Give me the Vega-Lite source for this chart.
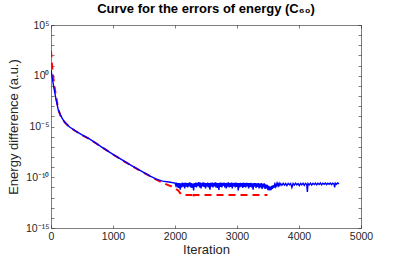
{
  "$schema": "https://vega.github.io/schema/vega-lite/v6.json",
  "width": 310,
  "height": 203,
  "autosize": {"type": "none"},
  "padding": {"left": 51, "top": 25, "right": 38, "bottom": 33},
  "background": "white",
  "title": {"text": "Curve for the errors of energy (C₆₀)", "font": "Liberation Sans, DejaVu Sans", "fontSize": 13, "fontWeight": "bold", "color": "#000000", "anchor": "middle", "offset": 4},
  "config": {
    "view": {"stroke": null},
    "axis": {"labelFont": "Liberation Sans", "titleFont": "Liberation Sans", "labelFontSize": 10.5, "titleFontSize": 13, "labelColor": "#262626", "titleColor": "#262626", "titleFontWeight": "normal", "domainColor": "#262626", "tickColor": "#262626", "domainWidth": 0.6, "tickWidth": 0.6, "grid": false}
  },
  "datasets": {
    "red": [
      {"iter": 0, "err": 300}, {"iter": 10, "err": 30}, {"iter": 25, "err": 3}, {"iter": 50, "err": 0.15}, {"iter": 80, "err": 0.01}, {"iter": 118, "err": 5e-4}, {"iter": 150, "err": 1.3e-4}, {"iter": 200, "err": 4e-5}, {"iter": 226, "err": 2.4e-5}, {"iter": 300, "err": 8.5e-6}, {"iter": 400, "err": 3.4e-6}, {"iter": 500, "err": 1.45e-6}, {"iter": 600, "err": 6.8e-7}, {"iter": 700, "err": 2.8e-7}, {"iter": 800, "err": 1.1e-7}, {"iter": 900, "err": 4.4e-8}, {"iter": 1000, "err": 1.75e-8}, {"iter": 1100, "err": 7.3e-9}, {"iter": 1200, "err": 3.1e-9}, {"iter": 1300, "err": 1.35e-9}, {"iter": 1400, "err": 6e-10}, {"iter": 1500, "err": 2.7e-10}, {"iter": 1600, "err": 1.25e-10}, {"iter": 1700, "err": 5.8e-11}, {"iter": 1800, "err": 2.9e-11}, {"iter": 1900, "err": 1.6e-11}, {"iter": 1975, "err": 1.05e-11}, {"iter": 2050, "err": 5e-12}, {"iter": 2090, "err": 2.5e-12}, {"iter": 2110, "err": 1.8e-12}, {"iter": 2285, "err": 1.8e-12}, {"iter": 2295, "err": 9e-13}, {"iter": 2305, "err": 1.8e-12}, {"iter": 3490, "err": 1.8e-12}
    ],
    "blue": [
      {"iter": 0, "err": 3.7}, {"iter": 10, "err": 1.6}, {"iter": 25, "err": 0.4}, {"iter": 50, "err": 0.05}, {"iter": 80, "err": 5e-3}, {"iter": 118, "err": 4.3e-4}, {"iter": 150, "err": 1.4e-4}, {"iter": 200, "err": 4e-5}, {"iter": 226, "err": 2.5e-5}, {"iter": 300, "err": 9e-6}, {"iter": 400, "err": 3.5e-6}, {"iter": 500, "err": 1.5e-6}, {"iter": 600, "err": 7e-7}, {"iter": 700, "err": 2.9e-7}, {"iter": 800, "err": 1.1e-7}, {"iter": 900, "err": 4.5e-8}, {"iter": 1000, "err": 1.8e-8}, {"iter": 1100, "err": 7.5e-9}, {"iter": 1200, "err": 3.2e-9}, {"iter": 1300, "err": 1.4e-9}, {"iter": 1400, "err": 6.3e-10}, {"iter": 1500, "err": 2.9e-10}, {"iter": 1600, "err": 1.3e-10}, {"iter": 1700, "err": 6.5e-11}, {"iter": 1800, "err": 4.2e-11}, {"iter": 1900, "err": 3.4e-11}, {"iter": 1950, "err": 3.0e-11},
      {"iter": 2000, "err": 2.7e-11}, {"iter": 2012, "err": 1.6e-11}, {"iter": 2024, "err": 3.0e-11}, {"iter": 2036, "err": 1.0e-11}, {"iter": 2048, "err": 2.7e-11}, {"iter": 2060, "err": 9e-12}, {"iter": 2072, "err": 2.6e-11}, {"iter": 2084, "err": 6e-12}, {"iter": 2096, "err": 2.5e-11}, {"iter": 2108, "err": 1.0e-11}, {"iter": 2120, "err": 2.9e-11}, {"iter": 2132, "err": 1.2e-11}, {"iter": 2144, "err": 2.6e-11}, {"iter": 2156, "err": 8e-12}, {"iter": 2168, "err": 3.0e-11}, {"iter": 2180, "err": 1.2e-11}, {"iter": 2192, "err": 2.7e-11}, {"iter": 2204, "err": 1.0e-11}, {"iter": 2216, "err": 2.8e-11}, {"iter": 2228, "err": 1.3e-11}, {"iter": 2240, "err": 3.2e-11}, {"iter": 2252, "err": 1.0e-11}, {"iter": 2264, "err": 2.6e-11}, {"iter": 2276, "err": 9e-12}, {"iter": 2288, "err": 2.4e-11}, {"iter": 2300, "err": 5e-12}, {"iter": 2312, "err": 2.7e-11}, {"iter": 2324, "err": 1.1e-11}, {"iter": 2336, "err": 2.9e-11}, {"iter": 2348, "err": 1.0e-11}, {"iter": 2360, "err": 2.8e-11}, {"iter": 2372, "err": 1.4e-11}, {"iter": 2384, "err": 3.3e-11}, {"iter": 2396, "err": 1.0e-11}, {"iter": 2408, "err": 2.9e-11}, {"iter": 2420, "err": 8e-12}, {"iter": 2432, "err": 2.7e-11}, {"iter": 2444, "err": 1.3e-11}, {"iter": 2456, "err": 3.1e-11}, {"iter": 2468, "err": 1.1e-11}, {"iter": 2480, "err": 2.8e-11}, {"iter": 2492, "err": 8e-12}, {"iter": 2504, "err": 2.6e-11}, {"iter": 2516, "err": 1.2e-11}, {"iter": 2528, "err": 3.0e-11}, {"iter": 2540, "err": 1.0e-11}, {"iter": 2552, "err": 2.7e-11}, {"iter": 2564, "err": 6e-12}, {"iter": 2576, "err": 2.8e-11}, {"iter": 2588, "err": 1.2e-11}, {"iter": 2600, "err": 2.9e-11}, {"iter": 2612, "err": 1.0e-11}, {"iter": 2624, "err": 2.7e-11}, {"iter": 2636, "err": 1.3e-11}, {"iter": 2648, "err": 3.2e-11}, {"iter": 2660, "err": 1.0e-11}, {"iter": 2672, "err": 2.8e-11}, {"iter": 2684, "err": 9e-12}, {"iter": 2696, "err": 2.6e-11}, {"iter": 2708, "err": 5.5e-12}, {"iter": 2720, "err": 2.8e-11}, {"iter": 2732, "err": 1.1e-11}, {"iter": 2744, "err": 2.9e-11}, {"iter": 2756, "err": 1.0e-11}, {"iter": 2768, "err": 2.7e-11}, {"iter": 2780, "err": 1.4e-11}, {"iter": 2792, "err": 3.0e-11}, {"iter": 2804, "err": 1.0e-11}, {"iter": 2816, "err": 2.7e-11}, {"iter": 2828, "err": 8e-12}, {"iter": 2840, "err": 2.8e-11}, {"iter": 2852, "err": 1.2e-11}, {"iter": 2864, "err": 3.1e-11}, {"iter": 2876, "err": 1.0e-11}, {"iter": 2888, "err": 2.6e-11}, {"iter": 2900, "err": 1.1e-11}, {"iter": 2912, "err": 2.9e-11}, {"iter": 2924, "err": 8e-12}, {"iter": 2936, "err": 2.7e-11}, {"iter": 2948, "err": 1.3e-11}, {"iter": 2960, "err": 2.8e-11}, {"iter": 2972, "err": 1.0e-11}, {"iter": 2984, "err": 2.9e-11}, {"iter": 2996, "err": 1.1e-11}, {"iter": 3008, "err": 2.7e-11}, {"iter": 3020, "err": 5e-12}, {"iter": 3032, "err": 2.6e-11}, {"iter": 3044, "err": 1.0e-11}, {"iter": 3056, "err": 2.8e-11}, {"iter": 3068, "err": 1.2e-11}, {"iter": 3080, "err": 2.7e-11}, {"iter": 3092, "err": 9e-12}, {"iter": 3104, "err": 2.9e-11}, {"iter": 3116, "err": 1.1e-11}, {"iter": 3128, "err": 2.6e-11}, {"iter": 3140, "err": 1.0e-11}, {"iter": 3152, "err": 2.8e-11}, {"iter": 3164, "err": 1.3e-11}, {"iter": 3176, "err": 2.7e-11}, {"iter": 3188, "err": 8e-12}, {"iter": 3200, "err": 2.6e-11}, {"iter": 3212, "err": 1.1e-11}, {"iter": 3224, "err": 2.8e-11}, {"iter": 3236, "err": 1.0e-11}, {"iter": 3248, "err": 2.5e-11}, {"iter": 3260, "err": 6e-12}, {"iter": 3272, "err": 2.7e-11}, {"iter": 3284, "err": 1.2e-11}, {"iter": 3296, "err": 2.6e-11}, {"iter": 3308, "err": 9e-12}, {"iter": 3320, "err": 2.5e-11}, {"iter": 3332, "err": 1.1e-11}, {"iter": 3344, "err": 2.7e-11}, {"iter": 3356, "err": 8e-12}, {"iter": 3368, "err": 2.4e-11}, {"iter": 3380, "err": 1.0e-11}, {"iter": 3392, "err": 2.6e-11}, {"iter": 3404, "err": 7e-12}, {"iter": 3416, "err": 2.3e-11}, {"iter": 3428, "err": 1.0e-11}, {"iter": 3440, "err": 2.5e-11}, {"iter": 3452, "err": 7e-12}, {"iter": 3464, "err": 2.0e-11}, {"iter": 3476, "err": 8e-12}, {"iter": 3488, "err": 1.8e-11}, {"iter": 3500, "err": 5.5e-12}, {"iter": 3512, "err": 1.4e-11}, {"iter": 3524, "err": 5e-12}, {"iter": 3536, "err": 1.2e-11}, {"iter": 3548, "err": 5.5e-12}, {"iter": 3560, "err": 1.4e-11}, {"iter": 3572, "err": 7e-12}, {"iter": 3584, "err": 1.7e-11}, {"iter": 3596, "err": 9e-12}, {"iter": 3608, "err": 2.0e-11}, {"iter": 3620, "err": 1.2e-11}, {"iter": 3632, "err": 2.3e-11}, {"iter": 3644, "err": 1.4e-11}, {"iter": 3656, "err": 2.4e-11}, {"iter": 3668, "err": 1.5e-11}, {"iter": 3680, "err": 2.5e-11}, {"iter": 3692, "err": 1.6e-11}, {"iter": 3705, "err": 2.4e-11},
      {"iter": 3725, "err": 1.6e-11}, {"iter": 3745, "err": 2.5e-11}, {"iter": 3765, "err": 1.7e-11}, {"iter": 3785, "err": 2.4e-11}, {"iter": 3805, "err": 1.5e-11}, {"iter": 3825, "err": 2.5e-11}, {"iter": 3845, "err": 1.8e-11}, {"iter": 3865, "err": 2.4e-11}, {"iter": 3885, "err": 1.0e-11}, {"iter": 3905, "err": 2.4e-11}, {"iter": 3925, "err": 1.7e-11}, {"iter": 3945, "err": 2.6e-11}, {"iter": 3965, "err": 1.8e-11}, {"iter": 3985, "err": 2.4e-11}, {"iter": 4005, "err": 1.5e-11}, {"iter": 4025, "err": 2.5e-11}, {"iter": 4045, "err": 1.8e-11}, {"iter": 4065, "err": 2.6e-11}, {"iter": 4085, "err": 1.6e-11}, {"iter": 4105, "err": 2.5e-11}, {"iter": 4125, "err": 1.9e-11}, {"iter": 4135, "err": 3.5e-12}, {"iter": 4145, "err": 2.4e-11}, {"iter": 4165, "err": 1.8e-11}, {"iter": 4185, "err": 2.6e-11}, {"iter": 4205, "err": 1.7e-11}, {"iter": 4225, "err": 2.5e-11}, {"iter": 4245, "err": 1.9e-11}, {"iter": 4265, "err": 2.6e-11}, {"iter": 4285, "err": 1.8e-11}, {"iter": 4305, "err": 2.5e-11}, {"iter": 4325, "err": 1.9e-11}, {"iter": 4345, "err": 2.7e-11}, {"iter": 4365, "err": 1.8e-11}, {"iter": 4385, "err": 2.6e-11}, {"iter": 4405, "err": 2.0e-11}, {"iter": 4425, "err": 2.7e-11}, {"iter": 4445, "err": 1.9e-11}, {"iter": 4465, "err": 2.6e-11}, {"iter": 4485, "err": 2.0e-11}, {"iter": 4505, "err": 2.7e-11}, {"iter": 4525, "err": 1.9e-11}, {"iter": 4545, "err": 2.6e-11}, {"iter": 4565, "err": 2.1e-11}, {"iter": 4575, "err": 1.0e-11}, {"iter": 4585, "err": 2.6e-11}, {"iter": 4605, "err": 2.0e-11}, {"iter": 4625, "err": 2.7e-11}, {"iter": 4645, "err": 2.2e-11}
    ]
  },
  "layer": [
    {
      "data": {"name": "red"},
      "mark": {"type": "line", "color": "#ff0000", "strokeWidth": 2, "strokeDash": [7, 5], "clip": true},
      "encoding": {
        "x": {"field": "iter", "type": "quantitative", "scale": {"domain": [0, 5000], "nice": false},
          "axis": {"orient": "bottom", "title": "Iteration", "format": "d", "values": [0, 1000, 2000, 3000, 4000, 5000], "tickSize": -3, "labelPadding": 6, "titlePadding": 2, "labelFlush": false}},
        "y": {"field": "err", "type": "quantitative", "scale": {"type": "log", "domain": [1e-15, 1e5], "nice": false},
          "axis": {"orient": "left", "title": "Energy difference (a.u.)", "values": [1e5, 1e4, 1e3, 1e2, 1e1, 1, 1e-1, 1e-2, 1e-3, 1e-4, 1e-5, 1e-6, 1e-7, 1e-8, 1e-9, 1e-10, 1e-11, 1e-12, 1e-13, 1e-14, 1e-15], "tickSize": -3, "labelPadding": 5, "titlePadding": 5, "labelFlush": false,
            "labelExpr": "round(log(datum.value)/LN10) == 5 ? '10⁵' : round(log(datum.value)/LN10) == 0 ? '10⁰' : round(log(datum.value)/LN10) == -5 ? '10⁻⁵' : round(log(datum.value)/LN10) == -10 ? '10⁻¹⁰' : round(log(datum.value)/LN10) == -15 ? '10⁻¹⁵' : ''"}}
      }
    },
    {
      "data": {"name": "blue"},
      "mark": {"type": "line", "color": "#0000ff", "strokeWidth": 1.4, "clip": true},
      "encoding": {
        "x": {"field": "iter", "type": "quantitative",
          "axis": {"orient": "top", "title": null, "labels": false, "values": [0, 1000, 2000, 3000, 4000, 5000], "tickSize": -3}},
        "y": {"field": "err", "type": "quantitative",
          "axis": {"orient": "right", "title": null, "labels": false, "values": [1e5, 1e4, 1e3, 1e2, 1e1, 1, 1e-1, 1e-2, 1e-3, 1e-4, 1e-5, 1e-6, 1e-7, 1e-8, 1e-9, 1e-10, 1e-11, 1e-12, 1e-13, 1e-14, 1e-15], "tickSize": -3}}
      }
    }
  ],
  "resolve": {"axis": {"x": "independent", "y": "independent"}}
}
